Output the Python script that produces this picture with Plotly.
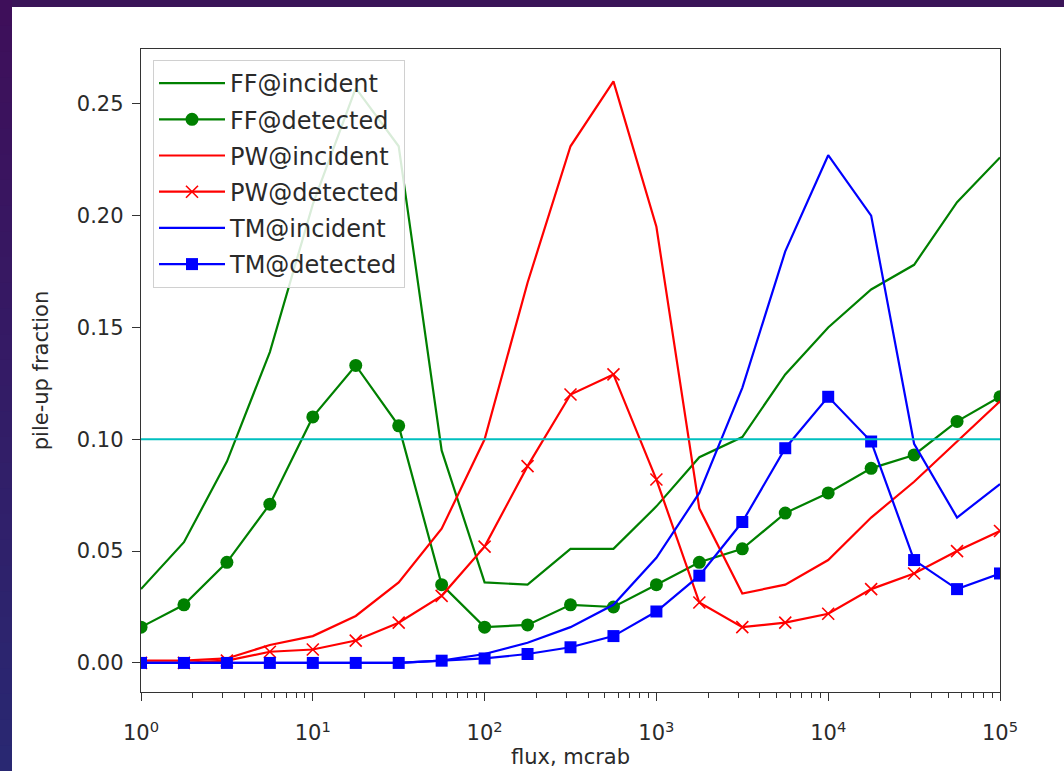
import plotly.graph_objects as go

# Flux grid (mcrab), quarter-decade steps from 1 to 1e5
log_flux = [0.0, 0.25, 0.5, 0.75, 1.0, 1.25, 1.5, 1.75, 2.0, 2.25, 2.5,
            2.75, 3.0, 3.25, 3.5, 3.75, 4.0, 4.25, 4.5, 4.75, 5.0]
flux = [10 ** v for v in log_flux]

ff_incident = [0.033, 0.054, 0.090, 0.139, 0.205, 0.257, 0.231, 0.095, 0.036, 0.035, 0.051,
               0.051, 0.070, 0.092, 0.101, 0.129, 0.150, 0.167, 0.178, 0.206, 0.226]
ff_detected = [0.016, 0.026, 0.045, 0.071, 0.110, 0.133, 0.106, 0.035, 0.016, 0.017, 0.026,
               0.025, 0.035, 0.045, 0.051, 0.067, 0.076, 0.087, 0.093, 0.108, 0.119]
pw_incident = [0.001, 0.001, 0.002, 0.008, 0.012, 0.021, 0.036, 0.060, 0.100, 0.170, 0.231,
               0.260, 0.195, 0.069, 0.031, 0.035, 0.046, 0.065, 0.081, 0.099, 0.117]
pw_detected = [0.000, 0.000, 0.001, 0.005, 0.006, 0.010, 0.018, 0.030, 0.052, 0.088, 0.120,
               0.129, 0.082, 0.027, 0.016, 0.018, 0.022, 0.033, 0.040, 0.050, 0.059]
tm_incident = [0.000, 0.000, 0.000, 0.000, 0.000, 0.000, 0.000, 0.001, 0.004, 0.009, 0.016,
               0.026, 0.047, 0.076, 0.123, 0.184, 0.227, 0.200, 0.098, 0.065, 0.080]
tm_detected = [0.000, 0.000, 0.000, 0.000, 0.000, 0.000, 0.000, 0.001, 0.002, 0.004, 0.007,
               0.012, 0.023, 0.039, 0.063, 0.096, 0.119, 0.099, 0.046, 0.033, 0.040]

threshold = 0.10

y_ticks = [0.00, 0.05, 0.10, 0.15, 0.20, 0.25]
y_tick_labels = ["0.00", "0.05", "0.10", "0.15", "0.20", "0.25"]
x_ticks = [1, 10, 100, 1000, 10000, 100000]
x_tick_labels = ["10<sup>0</sup>", "10<sup>1</sup>", "10<sup>2</sup>",
                 "10<sup>3</sup>", "10<sup>4</sup>", "10<sup>5</sup>"]

GREEN = "#008000"
RED = "#ff0000"
BLUE = "#0000ff"
CYAN = "#00bfbf"
FONT = "DejaVu Sans"
TEXT = "#2a2a2a"

W, H = 1064, 771
L, R, T, B = 141, 64, 49, 79
pw_, ph_ = W - L - R, H - T - B


def px_x(x):
    return (x - L) / pw_


def px_y(y):
    return (H - B - y) / ph_


fig = go.Figure()

series = [
    ("FF@incident", ff_incident, GREEN, None),
    ("FF@detected", ff_detected, GREEN, dict(symbol="circle", size=13, color=GREEN)),
    ("PW@incident", pw_incident, RED, None),
    ("PW@detected", pw_detected, RED, dict(symbol="x-thin", size=12, color=RED,
                                           line=dict(color=RED, width=1.6))),
    ("TM@incident", tm_incident, BLUE, None),
    ("TM@detected", tm_detected, BLUE, dict(symbol="square", size=12, color=BLUE)),
]
for i, (name, vals, col, mk) in enumerate(series):
    fig.add_trace(go.Scatter(
        x=flux, y=vals, name=name, legendgroup=f"g{i}",
        mode="lines+markers" if mk else "lines",
        line=dict(color=col, width=2.2),
        marker=mk,
    ))

# Threshold line
fig.add_trace(go.Scatter(
    x=[flux[0], flux[-1]], y=[threshold, threshold], mode="lines",
    line=dict(color=CYAN, width=2.2), showlegend=False, hoverinfo="skip",
))

shapes = []
# Slide backdrop: vertical purple-to-indigo gradient on the left strip
top_c = (0x3e, 0x0f, 0x5a)
bot_c = (0x29, 0x28, 0x72)
n = 30
for k in range(n):
    t = k / (n - 1)
    c = tuple(round(top_c[j] + (bot_c[j] - top_c[j]) * t) for j in range(3))
    y0 = k * H / n
    y1 = (k + 1) * H / n + 1
    shapes.append(dict(type="rect", xref="paper", yref="paper",
                       x0=px_x(0), x1=px_x(12), y0=px_y(y1), y1=px_y(y0),
                       fillcolor="rgb(%d,%d,%d)" % c, line=dict(width=0), layer="below"))
# White figure panel
shapes.append(dict(type="rect", xref="paper", yref="paper",
                   x0=px_x(12), x1=px_x(W + 2), y0=px_y(H + 2), y1=px_y(7),
                   fillcolor="white", line=dict(width=0), layer="below"))

axis_common = dict(
    showline=True, linecolor="#333333", linewidth=1.4, mirror=True,
    showgrid=False, zeroline=False, automargin=False,
    ticks="outside", ticklen=8, tickwidth=1.3, tickcolor="#333333",
    tickfont=dict(family=FONT, size=21, color=TEXT),
)

fig.update_layout(
    width=W, height=H,
    margin=dict(l=L, r=R, t=T, b=B),
    paper_bgcolor="#3a1458",
    plot_bgcolor="white",
    shapes=shapes,
    showlegend=True,
    legend=dict(
        x=px_x(153), y=px_y(60), xanchor="left", yanchor="top",
        bgcolor="rgba(255,255,255,0.85)", bordercolor="#d0d0d0", borderwidth=1,
        font=dict(family=FONT, size=24, color=TEXT),
        traceorder="grouped", tracegroupgap=2,
        itemwidth=66,
    ),
    xaxis=dict(
        type="log", range=[0, 5],
        tickvals=x_ticks, ticktext=x_tick_labels,
        minor=dict(ticks="outside", ticklen=4.5, tickwidth=1, tickcolor="#333333",
                   dtick="D1", showgrid=False),
        title=dict(text="flux, mcrab", font=dict(family=FONT, size=21, color=TEXT),
                   standoff=4),
        ticklabelstandoff=14,
        **axis_common,
    ),
    yaxis=dict(
        range=[-0.013, 0.2745],
        tickvals=y_ticks, ticktext=y_tick_labels,
        title=dict(text="pile-up fraction", font=dict(family=FONT, size=21, color=TEXT),
                   standoff=22),
        ticklabelstandoff=4,
        **axis_common,
    ),
)

fig.write_html("out.html")
